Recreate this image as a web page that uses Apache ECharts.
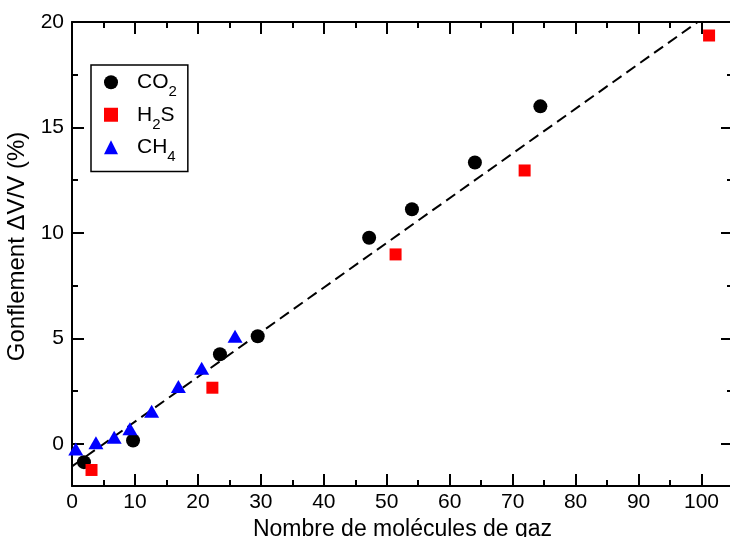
<!DOCTYPE html>
<html>
<head>
<meta charset="utf-8">
<script src="https://cdn.jsdelivr.net/npm/echarts@6/dist/echarts.min.js"></script>
<style>html,body{margin:0;padding:0;background:#fff}#c{width:730px;height:537px}</style>
</head>
<body>
<div id="c"></div>
<script>
// Data
const co2X = [1.9, 9.7, 23.5, 29.5, 47.2, 54.0, 64.0, 74.4];
const co2Y = [-0.87, 0.16, 4.25, 5.1, 9.77, 11.12, 13.34, 16.0];
const h2sX = [3.1, 22.3, 51.4, 71.9, 101.2];
const h2sY = [-1.24, 2.66, 8.98, 12.96, 19.36];
const ch4X = [0.6, 3.8, 6.7, 9.2, 12.65, 16.9, 20.6, 25.9];
const ch4Y = [-0.24, 0.05, 0.31, 0.71, 1.55, 2.72, 3.58, 5.1];
const fitX = [0, 105];
const fitY = [-1.07, 21.19];
const xMajor = [0, 10, 20, 30, 40, 50, 60, 70, 80, 90, 100];
const xMinor = [5, 15, 25, 35, 45, 55, 65, 75, 85, 95];
const yMajor = [0, 5, 10, 15, 20];
const yMinor = [2.5, 7.5, 12.5, 17.5];
const legendNames = ['CO2', 'H2S', 'CH4'];
const legendRich = {'CO2': 'CO{s|2}', 'H2S': 'H{s|2}S', 'CH4': 'CH{s|4}'};

const FONT = '"Liberation Sans", Arial, Helvetica, sans-serif';
const zip = (a, b) => a.map((v, i) => [v, b[i]]);

function xAx(pos, ticks, len, showLine, labels) {
  return {
    type: 'value', min: 0, max: 105, position: pos, gridIndex: 0,
    axisLine: {show: showLine, onZero: false, lineStyle: {color: '#000', width: 2}},
    axisTick: {show: true, inside: true, length: len, customValues: ticks, lineStyle: {color: '#000', width: 2}},
    axisLabel: labels ? {show: true, customValues: ticks, color: '#000', fontSize: 21, fontFamily: FONT, margin: 6} : {show: false},
    splitLine: {show: false}
  };
}
function yAx(pos, ticks, len, showLine, labels) {
  return {
    type: 'value', min: -2, max: 20, position: pos, gridIndex: 0,
    axisLine: {show: showLine, onZero: false, lineStyle: {color: '#000', width: 2}},
    axisTick: {show: true, inside: true, length: len, customValues: ticks, lineStyle: {color: '#000', width: 2}},
    axisLabel: labels ? {show: true, customValues: ticks, color: '#000', fontSize: 21, fontFamily: FONT, margin: 8} : {show: false},
    splitLine: {show: false}
  };
}

const xs = [
  xAx('bottom', xMajor, 12, true, true),
  xAx('bottom', xMinor, 6, false, false),
  xAx('top', xMajor, 12, true, false),
  xAx('top', xMinor, 6, false, false)
];
Object.assign(xs[0], {name: 'Nombre de molécules de gaz', nameLocation: 'middle', nameGap: 25,
  nameTextStyle: {color: '#000', fontSize: 23, fontFamily: FONT}});
const ys = [
  yAx('left', yMajor, 12, true, true),
  yAx('left', yMinor, 6, false, false),
  yAx('right', yMajor, 12, true, false),
  yAx('right', yMinor, 6, false, false)
];
Object.assign(ys[0], {name: 'Gonflement ΔV/V (%)', nameLocation: 'middle', nameGap: 37,
  nameTextStyle: {color: '#000', fontSize: 24, fontFamily: FONT, padding: [0, 0, 0, 15]}});

const chart = echarts.init(document.getElementById('c'), null, {renderer: 'canvas'});
chart.setOption({
  animation: false,
  backgroundColor: '#fff',
  grid: {left: 72, top: 22, width: 661, height: 464, containLabel: false, outerBoundsMode: 'none'},
  xAxis: xs,
  yAxis: ys,
  legend: {
    orient: 'vertical', left: 91, top: 65,
    data: [
      {name: 'CO2', icon: 'circle'},
      {name: 'H2S', icon: 'rect'},
      {name: 'CH4', icon: 'triangle'}
    ],
    itemWidth: 14, itemHeight: 14, itemGap: 4.5,
    padding: [6.75, 11, 6.75, 13],
    borderColor: '#000', borderWidth: 1.5, borderRadius: 0,
    backgroundColor: '#fff',
    formatter: n => '{g| }' + legendRich[n],
    textStyle: {
      color: '#000', fontSize: 21, fontFamily: FONT, lineHeight: 20,
      rich: {
        g: {width: 14, fontSize: 21, lineHeight: 20, verticalAlign: 'top'},
        s: {fontSize: 15, lineHeight: 14, fontFamily: FONT, color: '#000', padding: [12.5, 0, 0, 0], verticalAlign: 'top'}
      }
    }
  },
  series: [
    {type: 'line', name: 'fit', data: zip(fitX, fitY), showSymbol: false, symbol: 'none', z: 1,
      lineStyle: {color: '#000', width: 2, type: [11, 6]}, clip: true, silent: true},
    {type: 'scatter', name: 'CO2', data: zip(co2X, co2Y), symbol: 'circle', symbolSize: 14,
      itemStyle: {color: '#000', opacity: 1}, z: 3},
    {type: 'scatter', name: 'H2S', data: zip(h2sX, h2sY), symbol: 'rect', symbolSize: 12,
      itemStyle: {color: '#ff0000', opacity: 1}, z: 3},
    {type: 'scatter', name: 'CH4', data: zip(ch4X, ch4Y), symbol: 'triangle', symbolSize: [15, 13],
      itemStyle: {color: '#0000ff', opacity: 1}, z: 3}
  ]
});
</script>
</body>
</html>
